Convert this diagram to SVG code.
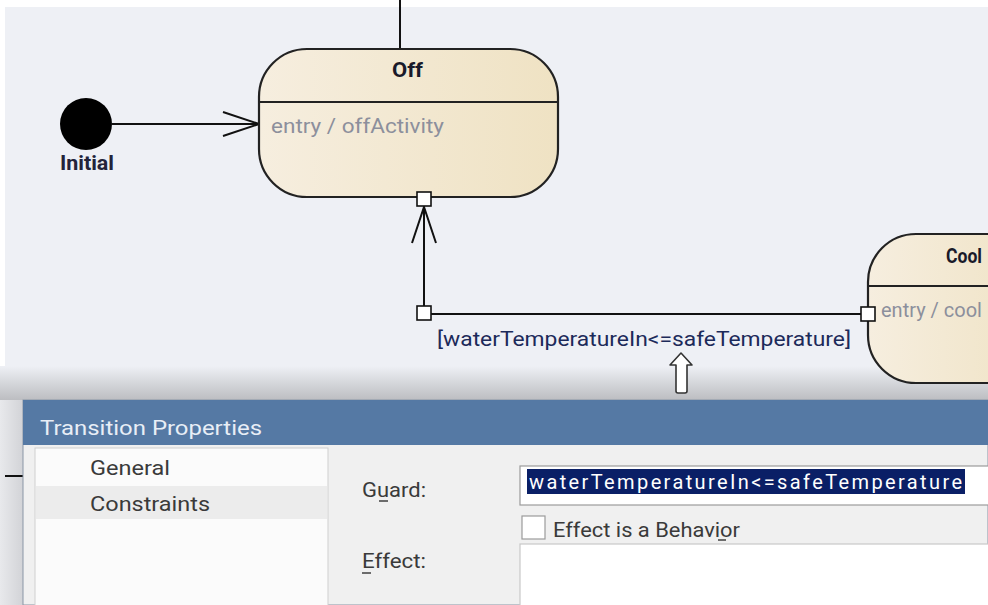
<svg xmlns="http://www.w3.org/2000/svg" width="988" height="605" viewBox="0 0 988 605">
<defs>
<linearGradient id="stateFill" x1="0" y1="0" x2="1" y2="0">
<stop offset="0" stop-color="#f6eedf"/>
<stop offset="1" stop-color="#efe2c3"/>
</linearGradient>
<linearGradient id="shadowBand" x1="0" y1="0" x2="0" y2="1">
<stop offset="0" stop-color="#eef0f5"/>
<stop offset="1" stop-color="#bcbdc1"/>
</linearGradient>
<linearGradient id="leftBand" x1="0" y1="0" x2="1" y2="0">
<stop offset="0" stop-color="#e8e9ec"/>
<stop offset="1" stop-color="#d2d3d7"/>
</linearGradient>
<marker id="openArrow" viewBox="0 0 40 30" refX="38" refY="15" markerWidth="40" markerHeight="30" markerUnits="userSpaceOnUse" orient="auto">
<path d="M2,3 L38,15 L2,27" fill="none" stroke="#111" stroke-width="2"/>
</marker>
</defs>
<style>
.state{fill:url(#stateFill);stroke:#222;stroke-width:2.2}
.div{stroke:#222;stroke-width:1.8}
.conn{fill:none;stroke:#111;stroke-width:2}
.handle{fill:#fff;stroke:#111;stroke-width:1.6}
.title{font-family:Roboto,"Noto Sans",sans-serif;font-weight:bold;font-size:20px;fill:#1a1a2a}
.act{font-family:Roboto,"Noto Sans",sans-serif;font-size:20px;fill:#8c8f9c}
.lbl{font-family:Roboto,"Noto Sans",sans-serif;font-size:20px;fill:#1c2a5a}
.init{font-family:Roboto,"Noto Sans",sans-serif;font-size:20px;font-weight:bold;fill:#23233a}
.ui{font-family:Roboto,"Noto Sans",sans-serif;font-size:20px;fill:#3a3a3a}
.caption{font-family:Roboto,"Noto Sans",sans-serif;font-size:20px;fill:#e8eef6}
.sel{font-family:Roboto,"Noto Sans",sans-serif;font-size:20px;fill:#ffffff}
.ul{stroke:#333;stroke-width:1.4}
</style>
<!-- canvas -->
<rect x="0" y="0" width="988" height="605" fill="#ffffff"/>
<rect x="5" y="7" width="983" height="598" fill="#eef0f5"/>
<rect x="0" y="366" width="988" height="34" fill="url(#shadowBand)"/>
<rect x="0" y="400" width="23" height="205" fill="url(#leftBand)"/>

<g id="connectors">
<line class="conn" x1="400" y1="0" x2="400" y2="49"/>
<line class="conn" x1="112" y1="124" x2="259" y2="124" marker-end="url(#openArrow)"/>
<path class="conn" d="M424,313 L424,207" marker-end="url(#openArrow)"/>
<path class="conn" d="M424,306 Q424,314 432,314 L868,314"/>
<line class="conn" x1="5" y1="476" x2="23" y2="476"/>
<text class="lbl" x="437" y="346" textLength="414" lengthAdjust="spacingAndGlyphs">[waterTemperatureIn&lt;=safeTemperature]</text>
</g>

<g id="initial">
<circle cx="86" cy="124" r="26" fill="#000"/>
<text class="init" x="60" y="170" textLength="54" lengthAdjust="spacingAndGlyphs">Initial</text>
</g>

<g id="off">
<rect class="state" x="259" y="49" width="299" height="148" rx="48" ry="48"/>
<line class="div" x1="260" y1="102" x2="557" y2="102"/>
<text class="title" x="392" y="77" textLength="31" lengthAdjust="spacingAndGlyphs">Off</text>
<text class="act" x="271" y="133" textLength="173" lengthAdjust="spacingAndGlyphs">entry / offActivity</text>
</g>

<g id="cool">
<rect class="state" x="868" y="234" width="180" height="149" rx="48" ry="48"/>
<line class="div" x1="869" y1="286" x2="988" y2="286"/>
<text class="title" x="946" y="263" textLength="36" lengthAdjust="spacingAndGlyphs">Cool</text>
<text class="act" x="881" y="317">entry / cool</text>
</g>

<g id="handles">
<rect class="handle" x="417" y="192" width="14" height="14"/>
<rect class="handle" x="417" y="306" width="14" height="14"/>
<rect class="handle" x="861" y="307" width="14" height="14"/>
</g>

<g id="pointer">
<path d="M681,353 L692,365 L687,365 L687,391 Q687,393 685,393 L678,393 Q676,393 676,391 L676,365 L670,365 Z" fill="#fff" stroke="#333" stroke-width="1.6" stroke-linejoin="round"/>
</g>

<g id="dialog">
<rect x="23" y="400" width="965" height="205" fill="#f0f0f0" stroke="#8a96a6" stroke-width="1"/>
<rect x="23" y="400" width="965" height="45" fill="#5579a4"/>
<text class="caption" x="40" y="435" textLength="222" lengthAdjust="spacingAndGlyphs">Transition Properties</text>
<rect x="35" y="448" width="293" height="160" fill="#fbfbfb" stroke="#cfcfcf" stroke-width="1"/>
<rect x="36" y="486" width="291" height="33" fill="#ececec"/>
<text class="ui" x="90" y="475" textLength="80" lengthAdjust="spacingAndGlyphs">General</text>
<text class="ui" x="90" y="511" textLength="120" lengthAdjust="spacingAndGlyphs">Constraints</text>
<text class="ui" x="362" y="497" textLength="64" lengthAdjust="spacingAndGlyphs">Guard:</text>
<line class="ul" x1="379" y1="501" x2="388" y2="501"/>
<text class="ui" x="362" y="568" textLength="64" lengthAdjust="spacingAndGlyphs">Effect:</text>
<line class="ul" x1="362" y1="573" x2="371" y2="573"/>
<rect x="520" y="466" width="475" height="39" fill="#fff" stroke="#9b9b9b" stroke-width="1.2"/>
<rect x="527" y="469" width="438" height="25" fill="#0a1f66"/>
<text class="sel" x="529" y="489" textLength="433" lengthAdjust="spacing">waterTemperatureIn&lt;=safeTemperature</text>
<rect x="522" y="516" width="23" height="23" fill="#fff" stroke="#9b9b9b" stroke-width="1.2"/>
<text class="ui" x="553" y="537" textLength="187" lengthAdjust="spacingAndGlyphs">Effect is a Behavior</text>
<line class="ul" x1="718" y1="540" x2="726" y2="540"/>
<rect x="520" y="544" width="475" height="70" fill="#fff" stroke="#c8c8c8" stroke-width="1.2"/>
</g>
</svg>
